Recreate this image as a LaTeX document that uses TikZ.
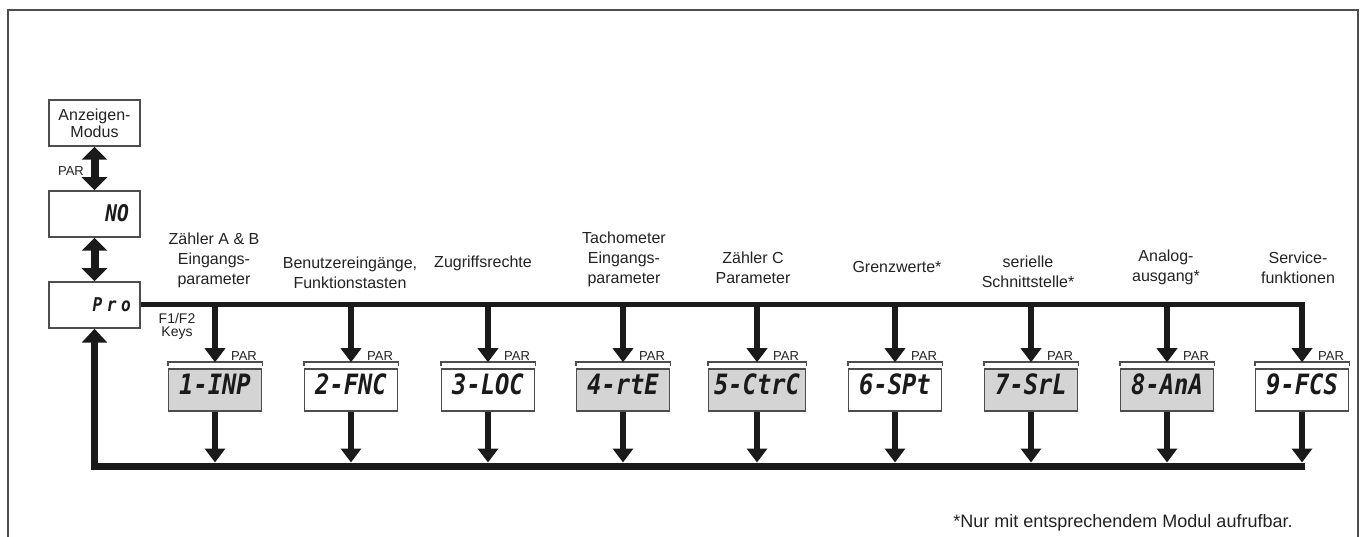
\documentclass[tikz,border=0pt]{standalone}
\usepackage{fontspec}
\setmainfont{Liberation Sans}
\newfontfamily\segfont[FakeStretch=0.85]{DejaVu Sans Mono}
\usetikzlibrary{arrows.meta}

\definecolor{ink}{HTML}{1A1A1A}
\definecolor{rim}{HTML}{4D4D4D}
\definecolor{lcd}{HTML}{D4D4D4}
\definecolor{txt}{HTML}{222222}

\begin{document}
\begin{tikzpicture}[x=1pt,y=-1pt,
  modebox/.style={draw=rim, line width=1.5, fill=white, minimum width=91,
    minimum height=46, inner sep=0},
  lcdbox/.style={draw=rim, line width=1.5, minimum height=42, inner sep=0},
  segtext/.style={text=ink, inner sep=0, font=\segfont\bfseries\itshape\fontsize{28}{28}\selectfont},
  caption/.style={text=txt, inner sep=0, align=center, font=\fontsize{16}{20}\selectfont},
  small/.style={text=txt, inner sep=0, align=center, font=\fontsize{13}{13}\selectfont},
  bus/.style={draw=ink, line width=5},
  stem/.style={draw=ink, line width=6.5, -{Triangle[width=20,length=14]}},
  loopline/.style={draw=ink, line width=7, line join=miter, -{Triangle[width=25,length=14]}},
  dbl/.style={draw=ink, line width=8, {Triangle[width=25,length=13]}-{Triangle[width=25,length=13]}}
]
\useasboundingbox (0,0) rectangle (1366,537);

% outer frame, open at the bottom
\draw[rim, line width=2] (8,537) -- (8,10) -- (1358,10) -- (1358,537);

% left column: display mode, NO, Pro
\node[modebox, text=txt, align=center, font=\fontsize{16}{17}\selectfont] (disp) at (94.5,123) {Anzeigen-\\Modus};
\node[modebox] (no) at (94.5,214) {};
\node[segtext, anchor=base east, font=\segfont\bfseries\itshape\fontsize{23}{23}\selectfont] (notext) at (129,222) {NO};
\node[modebox] (pro) at (94.5,305) {};
\node[segtext, anchor=base east, font=\segfont\bfseries\itshape\fontsize{19}{19}\selectfont\addfontfeature{LetterSpace=24}] (protext) at (131,312) {Pro};

\draw[dbl] (disp.south) -- (no.north);
\draw[dbl] (no.south) -- (pro.north);
\node[small] (parleft) at (71,171) {PAR};
\node[small, font=\fontsize{14}{13}\selectfont] (keys) at (177,326) {F1/F2\\Keys};

% parameter groups
\foreach \n/\x/\w/\t/\f in {1/215/93/1-INP/lcd, 2/351/93/2-FNC/white, 3/488/93/3-LOC/white,
    4/623/93/4-rtE/lcd, 5/757/97/5-CtrC/lcd, 6/895/93/6-SPt/white,
    7/1031/93/7-SrL/lcd, 8/1167/93/8-AnA/lcd, 9/1302/93/9-FCS/white}{
  \coordinate (top\n) at (\x,305);
  \coordinate (bot\n) at (\x,466);
  \node[lcdbox, fill=\f, minimum width=\w] (b\n) at (\x,390) {};
  \draw[rim, line width=1.5] ([yshift=2]b\n.north west) -- ([yshift=6]b\n.north west)
    -- ([yshift=6]b\n.north east) -- ([yshift=2]b\n.north east);
  \node[segtext, anchor=base] (t\n) at (\x,395) {\t};
  \node[small] (par\n) at (\x+29,356) {PAR};
  \draw[stem] ([yshift=2.5]top\n) -- ([yshift=6]b\n.north);
  \draw[stem] (b\n.south) -- ([yshift=3.5]bot\n);
}

% bus from Pro to the groups and return loop
\coordinate (bot0) at (94.5,466);
\draw[bus] (pro.east) -- ([xshift=3.25]top9);
\draw[loopline] ([xshift=3.25]bot9) -- (bot0) -- (pro.south);

% group captions
\node[caption] (c1) at (214,260) {Zähler A \& B\\Eingangs-\\parameter};
\node[caption] (c2) at (350,272.5) {Benutzereingänge,\\Funktionstasten};
\node[caption] (c3) at (483,263) {Zugriffsrechte};
\node[caption] (c4) at (624,259) {Tachometer\\Eingangs-\\parameter};
\node[caption] (c5) at (753,268) {Zähler C\\Parameter};
\node[caption] (c6) at (897,267) {Grenzwerte*};
\node[caption] (c7) at (1028,271.5) {serielle\\Schnittstelle*};
\node[caption] (c8) at (1166,267) {Analog-\\ausgang*};
\node[caption] (c9) at (1298,268) {Service-\\funktionen};

\node[caption, font=\fontsize{18}{20}\selectfont] (note) at (1123,523) {*Nur mit entsprechendem Modul aufrufbar.};
\end{tikzpicture}
\end{document}
